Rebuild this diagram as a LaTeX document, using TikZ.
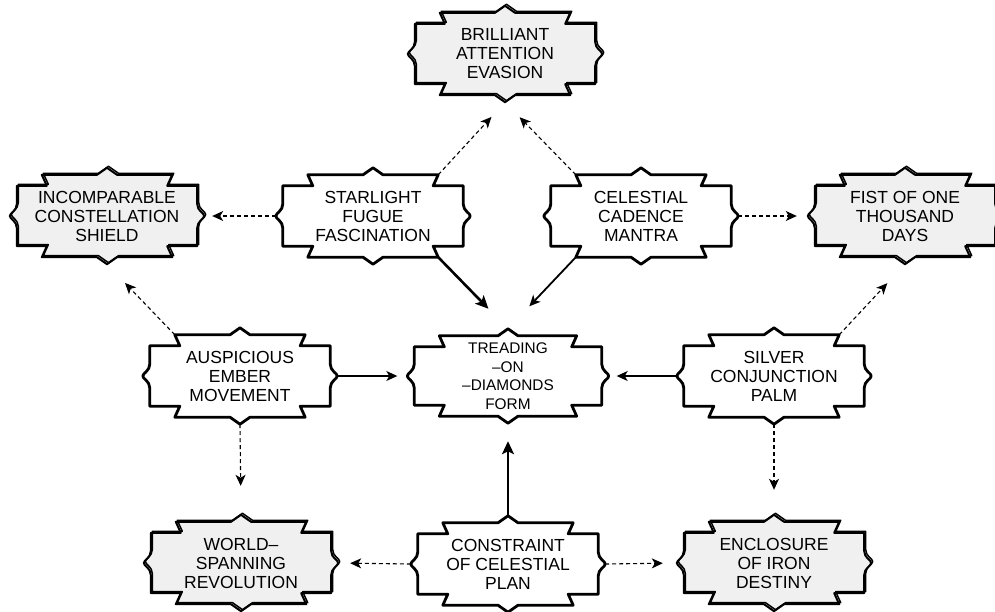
\documentclass[tikz,border=0pt]{standalone}
\usepackage{fontspec}
\setmainfont{Liberation Sans}
\usetikzlibrary{arrows.meta,backgrounds}
\tikzstyle{Arrow}=[-{Stealth[length=11pt,width=10pt,inset=3pt]}]
\tikzstyle{Thick}=[-{Stealth[length=13pt,width=12pt,inset=3pt]}, line width=2.6pt]
\tikzstyle{Dashed}=[Arrow, line width=1.1pt, dash pattern=on 4pt off 3pt]
\tikzset{
  Plaque/.style={insert path={
    ([xshift=25pt]#1.north west) -- ([xshift=-10pt]#1.north) -- ([yshift=7pt]#1.north) -- ([xshift=10pt]#1.north)
    -- ([xshift=-25pt]#1.north east) -- ([xshift=-30pt,yshift=-11pt]#1.north east) -- ([yshift=-11pt]#1.north east)
    -- ([yshift=12pt]#1.east) .. controls ([yshift=5pt]#1.east) and ([xshift=7pt,yshift=3pt]#1.east) .. ([xshift=7pt]#1.east)
    .. controls ([xshift=7pt,yshift=-3pt]#1.east) and ([yshift=-5pt]#1.east) .. ([yshift=-12pt]#1.east)
    -- ([yshift=11pt]#1.south east) -- ([xshift=-30pt,yshift=11pt]#1.south east) -- ([xshift=-25pt]#1.south east)
    -- ([xshift=10pt]#1.south) -- ([yshift=-7pt]#1.south) -- ([xshift=-10pt]#1.south)
    -- ([xshift=25pt]#1.south west) -- ([xshift=30pt,yshift=11pt]#1.south west) -- ([yshift=11pt]#1.south west)
    -- ([yshift=-12pt]#1.west) .. controls ([yshift=-5pt]#1.west) and ([xshift=-7pt,yshift=-3pt]#1.west) .. ([xshift=-7pt]#1.west)
    .. controls ([xshift=-7pt,yshift=3pt]#1.west) and ([yshift=5pt]#1.west) .. ([yshift=12pt]#1.west)
    -- ([yshift=-11pt]#1.north west) -- ([xshift=30pt,yshift=-11pt]#1.north west) -- cycle
  }}
}

\begin{document}
\begin{tikzpicture}[
  x=1pt, y=-1pt,
  Box/.style={minimum width=180pt, minimum height=82pt, inner sep=0, align=center, font=\fontsize{17.5}{19}\selectfont},
  Frame/.style={draw, line width=2.8pt, line join=round, fill=white},
  Grey/.style={draw, line width=2pt, line join=round, fill=gray!12},
  Sketch/.style={draw, line width=1.5pt, line join=round, transform canvas={shift={(1.5pt,1.5pt)}}}
]
\useasboundingbox (0,0) rectangle (995,611);

\node[Box] (brill) at (505,54) {BRILLIANT\\ATTENTION\\EVASION};
\node[Box] (incomp) at (107,216) {INCOMPARABLE\\CONSTELLATION\\SHIELD};
\node[Box] (star) at (373,216) {STARLIGHT\\FUGUE\\FASCINATION};
\node[Box] (celes) at (641,216) {CELESTIAL\\CADENCE\\MANTRA};
\node[Box] (fist) at (905,216) {FIST OF ONE\\THOUSAND\\DAYS};
\node[Box] (ausp) at (240,376) {AUSPICIOUS\\EMBER\\MOVEMENT};
\node[Box,minimum width=187pt,minimum height=80pt,font=\fontsize{15.4}{18.5}\selectfont] (tread) at (508,376) {TREADING\\--ON\\--DIAMONDS\\FORM};
\node[Box] (silver) at (774,376) {SILVER\\CONJUNCTION\\PALM};
\node[Box] (world) at (241,563) {WORLD--\\SPANNING\\REVOLUTION};
\node[Box] (constr) at (508,564) {CONSTRAINT\\OF CELESTIAL\\PLAN};
\node[Box] (encl) at (774,563) {ENCLOSURE\\OF IRON\\DESTINY};

\begin{scope}[on background layer]
\foreach \n in {star,celes,ausp,tread,silver,constr} \path[Frame, Plaque=\n];
\foreach \n in {brill,incomp,fist,world,encl} {
  \path[Grey, Plaque=\n];
  \path[Sketch, Plaque=\n];
}
\end{scope}

\draw[Thick, shorten >=28pt] ([xshift=-25pt]star.south east) -- ([yshift=7pt]tread.north);
\draw[Arrow, line width=1.8pt, shorten >=31pt] ([xshift=25pt]celes.south west) -- ([yshift=7pt]tread.north);
\draw[Arrow, line width=1.2pt, shorten >=10pt] ([xshift=7pt]ausp.east) -- ([xshift=-7pt]tread.west);
\draw[Arrow, line width=1.2pt, shorten >=8pt] ([xshift=-7pt]silver.west) -- ([xshift=7pt]tread.east);
\draw[Thick, shorten >=18pt] ([yshift=7pt]constr.north) -- ([yshift=-7pt]tread.south);

\draw[Dashed, shorten >=20pt] ([xshift=-25pt]star.north east) -- ([yshift=-7pt]brill.south);
\draw[Dashed, shorten >=21pt] ([xshift=25pt]celes.north west) -- ([yshift=-7pt]brill.south);
\draw[Dashed, shorten >=8pt] ([xshift=-7pt]star.west) -- ([xshift=7pt]incomp.east);
\draw[Dashed, shorten >=11pt] ([xshift=7pt]celes.east) -- ([xshift=-7pt]fist.west);
\draw[Dashed, shorten >=26pt] ([xshift=25pt]ausp.north west) -- ([yshift=-7pt]incomp.south);
\draw[Dashed, shorten >=26pt] ([xshift=-25pt]silver.north east) -- ([yshift=-7pt]fist.south);
\draw[Dashed, shorten >=29pt] ([yshift=-7pt]ausp.south) -- ([yshift=7pt]world.north);
\draw[Dashed, shorten >=25pt] ([yshift=-7pt]silver.south) -- ([yshift=7pt]encl.north);
\draw[Dashed, shorten >=12pt] ([xshift=-7pt]constr.west) -- ([xshift=7pt]world.east);
\draw[Dashed, shorten >=14pt] ([xshift=7pt]constr.east) -- ([xshift=-7pt]encl.west);

\end{tikzpicture}
\end{document}
